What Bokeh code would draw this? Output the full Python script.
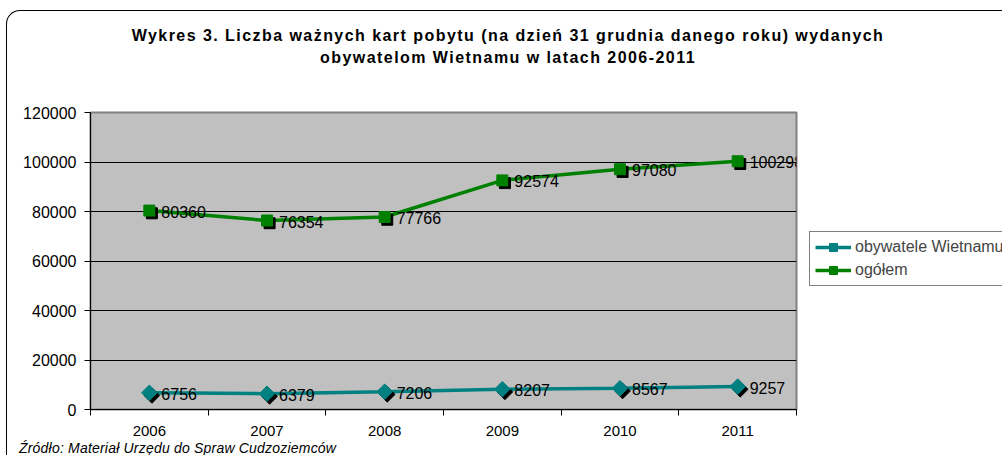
from bokeh.plotting import figure
from bokeh.layouts import column
from bokeh.models import (ColumnDataSource, Range1d, FixedTicker, BasicTickFormatter,
                          LabelSet, Legend, LegendItem, Div)
from bokeh.core.properties import value
from bokeh.transform import dodge
from bokeh.embed import file_html
from bokeh.resources import INLINE

years = ["2006", "2007", "2008", "2009", "2010", "2011"]
vietnam = [6756, 6379, 7206, 8207, 8567, 9257]
total = [80360, 76354, 77766, 92574, 97080, 100298]
y_ticks = [0, 20000, 40000, 60000, 80000, 100000, 120000]

title1 = "Wykres 3. Liczba ważnych kart pobytu (na dzień 31 grudnia danego roku) wydanych"
title2 = "obywatelom Wietnamu w latach 2006-2011"
source_note = "Źródło: Materiał Urzędu do Spraw Cudzoziemców"
series_names = ["obywatele Wietnamu", "ogółem"]

FONT = "Liberation Sans"
TEAL = "#008080"
GREEN = "#008000"

xs = [i + 0.5 for i in range(len(years))]
src = ColumnDataSource(dict(x=xs, vn=vietnam, tot=total,
                            vn_lab=[str(v) for v in vietnam],
                            tot_lab=[str(v) for v in total]))

p = figure(width=995, height=362, frame_width=706, frame_height=297,
           min_border_left=83, min_border_right=206, min_border_top=31, min_border_bottom=34,
           x_range=Range1d(0, len(years)), y_range=Range1d(0, 120000),
           output_backend="svg", toolbar_location=None, margin=0)

p.background_fill_color = "#C0C0C0"
p.border_fill_color = "white"
p.outline_line_color = "#808080"
p.outline_line_width = 2

# axes
p.xaxis.ticker = FixedTicker(ticks=xs, minor_ticks=list(range(len(years) + 1)))
p.xaxis.major_label_overrides = {x: y for x, y in zip(xs, years)}
p.xaxis.major_tick_out = 0
p.xaxis.major_tick_in = 0
p.xaxis.minor_tick_out = 6
p.xaxis.minor_tick_in = 0
p.xaxis.minor_tick_line_color = "black"
p.xaxis.axis_line_color = "black"
p.xaxis.major_label_text_font = FONT
p.xaxis.major_label_text_font_size = "15px"
p.xaxis.major_label_text_color = "black"
p.xaxis.major_label_standoff = 10

p.yaxis.ticker = FixedTicker(ticks=y_ticks)
p.yaxis.formatter = BasicTickFormatter(use_scientific=False)
p.yaxis.major_tick_out = 6
p.yaxis.major_tick_in = 0
p.yaxis.minor_tick_line_color = None
p.yaxis.axis_line_color = "black"
p.yaxis.major_tick_line_color = "black"
p.yaxis.major_label_text_font = FONT
p.yaxis.major_label_text_font_size = "16px"
p.yaxis.major_label_text_color = "black"
p.yaxis.major_label_standoff = 8

p.xgrid.grid_line_color = None
p.ygrid.ticker = FixedTicker(ticks=y_ticks[1:-1])
p.ygrid.grid_line_color = "black"
p.ygrid.grid_line_width = 1

dx = 0.022
dy = -1100

# Vietnam series
l1 = p.line("x", "vn", source=src, line_color=TEAL, line_width=3.5)
p.scatter(dodge("x", dx), dodge("vn", dy), source=src, marker="square", angle=0.785,
          size=11, fill_color="black", line_color="black")
m1 = p.scatter("x", "vn", source=src, marker="square", angle=0.785, size=11,
               fill_color=TEAL, line_color=TEAL)

# total series
l2 = p.line("x", "tot", source=src, line_color=GREEN, line_width=3.5)
p.scatter(dodge("x", dx), dodge("tot", dy), source=src, marker="square",
          size=11, fill_color="black", line_color="black")
m2 = p.scatter("x", "tot", source=src, marker="square", size=11,
               fill_color=GREEN, line_color=GREEN)

for col, ycol in (("vn_lab", "vn"), ("tot_lab", "tot")):
    p.add_layout(LabelSet(x="x", y=ycol, text=col, source=src, x_offset=12, y_offset=-1,
                          text_baseline="middle", text_align="left",
                          text_font=value(FONT), text_font_size="16px", text_color="black"))

legend = Legend(items=[LegendItem(label=series_names[0], renderers=[l1, m1]),
                       LegendItem(label=series_names[1], renderers=[l2, m2])],
                location=(13, 123), orientation="vertical",
                border_line_color="black", border_line_width=1,
                background_fill_color="white", background_fill_alpha=1,
                label_text_font=FONT, label_text_font_size="16px",
                glyph_width=36, glyph_height=20, label_height=20, label_standoff=4,
                padding=5, spacing=3, margin=0)
p.add_layout(legend, "right")

title_div = Div(
    text=(f"<div style=\"box-sizing:border-box;width:995px;padding-top:14px;padding-left:7px;"
          f"line-height:22px;text-align:center;letter-spacing:1.45px;"
          f"font-family:'{FONT}';font-size:16px;font-weight:bold;color:black;\">"
          f"{title1}<br>{title2}</div>"),
    width=995, height=70, margin=0)

note_div = Div(
    text=(f"<div style=\"position:relative;top:-2px;padding-left:12px;line-height:12px;"
          f"font-family:'{FONT}';letter-spacing:0.2px;font-size:14px;font-style:italic;"
          f"color:black;white-space:nowrap;\">{source_note}</div>"),
    width=995, height=12, margin=0)

layout = column(title_div, p, note_div, spacing=0, margin=0,
                styles={"border-top": "1px solid black", "border-left": "1px solid black",
                        "border-top-left-radius": "14px", "margin-left": "6px",
                        "margin-top": "10px", "background": "white"})

open("out.html", "w").write(file_html(layout, INLINE))
